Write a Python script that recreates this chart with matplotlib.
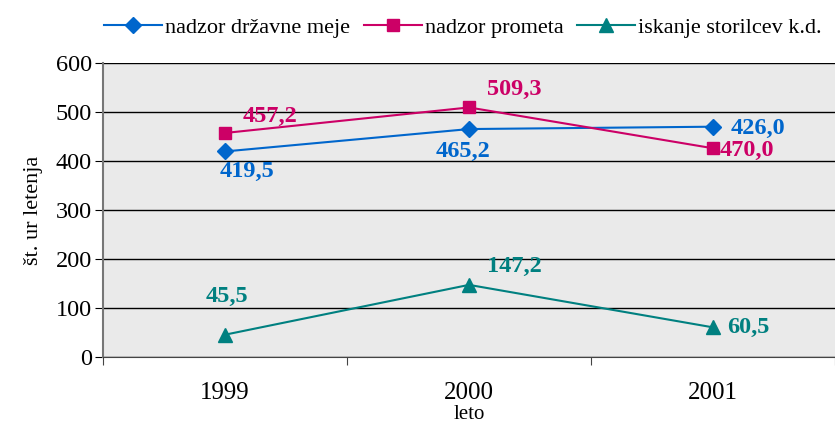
import numpy as np
import matplotlib
matplotlib.use("Agg")
import matplotlib.pyplot as plt

years = ["1999", "2000", "2001"]
meje = [419.5, 465.2, 470.0]
promet = [457.2, 509.3, 426.0]
storilci = [45.5, 147.2, 60.5]

# labels as printed in the original (2001 labels are swapped there)
meje_lbl = ["419,5", "465,2", "426,0"]
promet_lbl = ["457,2", "509,3", "470,0"]
storilci_lbl = ["45,5", "147,2", "60,5"]

c_blue = "#0066CC"
c_mag = "#CC0066"
c_teal = "#008080"

plt.rcParams['font.family'] = ['Liberation Serif', 'DejaVu Serif']

fig = plt.figure(figsize=(8.35, 4.23), dpi=100)
ax = fig.add_axes([103 / 835, 1 - 357 / 423, 732 / 835, 294 / 423])
ax.set_facecolor("#EAEAEA")

x = np.arange(len(years))
ax.plot(x, meje, color=c_blue, marker="D", ms=8, lw=1.5, label="nadzor državne meje")
ax.plot(x, promet, color=c_mag, marker="s", ms=9, lw=1.5, label="nadzor prometa")
ax.plot(x, storilci, color=c_teal, marker="^", ms=10, lw=1.5, label="iskanje storilcev k.d.")

ax.set_xlim(-0.5, 2.5)
ax.set_ylim(0, 600)
ax.set_yticks(range(0, 601, 100))
ax.yaxis.grid(True, color="black", lw=1)
ax.set_axisbelow(True)
ax.set_xticks([-0.5, 0.5, 1.5, 2.5])
ax.set_xticklabels([])
ax.set_xticks(x, minor=True)
ax.set_xticklabels(years, minor=True, fontsize=18)
ax.tick_params(axis="x", which="minor", length=0, pad=18)
ax.tick_params(axis="x", which="major", length=6, color="#444444")
ax.tick_params(axis="y", labelsize=17.5, length=6, pad=2)
for s in ["top", "right"]:
    ax.spines[s].set_visible(False)
ax.spines["left"].set_color("#777777")
ax.spines["left"].set_linewidth(1.5)
ax.spines["bottom"].set_color("#444444")

ax.set_ylabel("št. ur letenja", fontsize=16, labelpad=9)
ax.set_xlabel("leto", fontsize=15, labelpad=1)

def lab(xi, yi, txt, col, dx, dy, ha="left", va="center"):
    ax.annotate(txt, (xi, yi), xytext=(dx * 0.72, dy * 0.72), textcoords="offset points",
                color=col, fontsize=17.5, fontweight="bold", ha=ha, va=va)

lab(0, promet[0], promet_lbl[0], c_mag, 18, 17)
lab(0, meje[0], meje_lbl[0], c_blue, 22, -20, ha="center")
lab(1, promet[1], promet_lbl[1], c_mag, 18, 18)
lab(1, meje[1], meje_lbl[1], c_blue, -6, -22, ha="center")
lab(2, meje[2], meje_lbl[2], c_blue, 18, -2)
lab(2, promet[2], promet_lbl[2], c_mag, 7, -2)
lab(0, storilci[0], storilci_lbl[0], c_teal, 2, 38, ha="center")
lab(1, storilci[1], storilci_lbl[1], c_teal, 18, 18)
lab(2, storilci[2], storilci_lbl[2], c_teal, 14, 0)

fig.legend(loc="upper right", bbox_to_anchor=(1.0, 0.99), ncol=3, frameon=False,
           fontsize=16, handlelength=2.6, handletextpad=0.15, columnspacing=0.6,
           borderaxespad=0.2)

fig.savefig("out.png", dpi=100)
